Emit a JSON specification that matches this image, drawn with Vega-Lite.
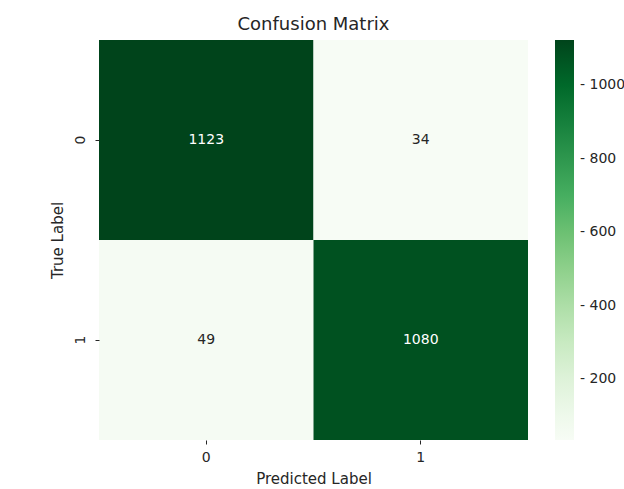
{
  "$schema": "https://vega.github.io/schema/vega-lite/v6.json",
  "autosize": {"type": "none"},
  "padding": {"left": 99, "top": 40, "right": 96, "bottom": 49},
  "width": 429,
  "height": 400,
  "background": "white",
  "title": {"text": "Confusion Matrix", "font": "DejaVu Sans", "fontSize": 18, "fontWeight": "normal", "color": "#262626", "offset": 6},
  "config": {
    "view": {"stroke": null},
    "font": "DejaVu Sans",
    "axis": {"grid": false, "domain": false, "tickColor": "#262626", "labelColor": "#262626", "titleColor": "#262626", "labelFont": "DejaVu Sans", "titleFont": "DejaVu Sans", "labelFontSize": 14, "titleFontSize": 15, "titleFontWeight": "normal", "tickSize": 4}
  },
  "data": {"values": [
    {"true_label": "0", "predicted": "0", "count": 1123},
    {"true_label": "0", "predicted": "1", "count": 34},
    {"true_label": "1", "predicted": "0", "count": 49},
    {"true_label": "1", "predicted": "1", "count": 1080}
  ]},
  "encoding": {
    "x": {"field": "predicted", "type": "nominal", "sort": ["0", "1"], "scale": {"paddingInner": 0, "paddingOuter": 0}, "axis": {"title": "Predicted Label", "labelAngle": 0, "labelPadding": 6, "titlePadding": 7}},
    "y": {"field": "true_label", "type": "nominal", "sort": ["0", "1"], "scale": {"paddingInner": 0, "paddingOuter": 0}, "axis": {"title": "True Label", "labelAngle": -90, "labelAlign": "center", "labelBaseline": "bottom", "labelPadding": 8, "titlePadding": 8}}
  },
  "layer": [
    {
      "mark": {"type": "rect"},
      "encoding": {
        "color": {"field": "count", "type": "quantitative", "scale": {"domain": [34, 1123], "range": ["#f7fcf5", "#e5f5e0", "#c7e9c0", "#a1d99b", "#74c476", "#41ab5d", "#238b45", "#006d2c", "#00441b"], "interpolate": "rgb"},
          "legend": {"title": null, "orient": "none", "legendX": 456, "legendY": 0, "direction": "vertical", "gradientLength": 400, "gradientThickness": 19, "values": [200, 400, 600, 800, 1000], "format": "d", "labelFontSize": 14, "labelColor": "#262626", "labelOffset": 6, "labelFont": "DejaVu Sans", "labelExpr": "'- ' + datum.label", "gradientStrokeWidth": 0}}
      }
    },
    {
      "mark": {"type": "text", "fontSize": 14, "font": "DejaVu Sans"},
      "encoding": {
        "text": {"field": "count", "type": "quantitative"},
        "color": {"condition": {"test": "datum.count > 600", "value": "#ffffff"}, "value": "#262626"}
      }
    }
  ]
}
